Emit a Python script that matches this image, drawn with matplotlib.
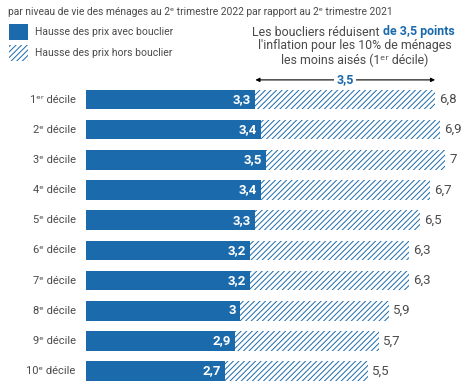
import matplotlib
matplotlib.use("Agg")
import matplotlib.pyplot as plt
from matplotlib.patches import Rectangle

plt.rcParams['font.family'] = ['Roboto', 'DejaVu Sans']
plt.rcParams['hatch.linewidth'] = 0.7

categories = ["1ᵉʳ décile", "2ᵉ décile", "3ᵉ décile", "4ᵉ décile", "5ᵉ décile",
              "6ᵉ décile", "7ᵉ décile", "8ᵉ décile", "9ᵉ décile", "10ᵉ décile"]
avec_bouclier = [3.3, 3.4, 3.5, 3.4, 3.3, 3.2, 3.2, 3.0, 2.9, 2.7]
hors_bouclier = [6.8, 6.9, 7.0, 6.7, 6.5, 6.3, 6.3, 5.9, 5.7, 5.5]

BLUE = "#1b6aac"
GRAY = "#4a4a4a"

W, H = 471, 381
fig = plt.figure(figsize=(W / 100, H / 100), dpi=100)

def fx(px):
    return px / W

def fy(py):
    return 1 - py / H

ax_left, ax_top, ax_bottom = 86, 84, 381
ax = fig.add_axes([fx(ax_left), fy(ax_bottom), fx(W - ax_left), (ax_bottom - ax_top) / H])
ax.set_xlim(0, 7.5)
ax.set_ylim(9.33, -0.514)
ax.axis('off')

def fmt(v):
    s = f"{v:.1f}".replace(".", ",")
    if s.endswith(",0"):
        s = s[:-2]
    return s

ys = list(range(len(categories)))
bh = 0.65
ax.barh(ys, hors_bouclier, height=bh, color="white", edgecolor=BLUE, hatch="//////", linewidth=0)
ax.barh(ys, avec_bouclier, height=bh, color=BLUE, linewidth=0)

for i, (a, h, c) in enumerate(zip(avec_bouclier, hors_bouclier, categories)):
    ax.text(a - 0.08, i, fmt(a), ha='right', va='center', color='white', fontsize=9.5, fontweight='bold')
    ax.text(h + 0.08, i, fmt(h), ha='left', va='center', color=GRAY, fontsize=9.5)
    ax.text(-0.2, i, c, ha='right', va='center', color=GRAY, fontsize=8)

# arrow annotation for the first decile
ay = -0.65
ax.annotate("", xy=(avec_bouclier[0], ay), xytext=(hors_bouclier[0], ay),
            arrowprops=dict(arrowstyle='<|-|>', color='black', lw=0.8, mutation_scale=6, shrinkA=0, shrinkB=0),
            annotation_clip=False)
mid = (avec_bouclier[0] + hors_bouclier[0]) / 2
ax.text(mid, ay, fmt(hors_bouclier[0] - avec_bouclier[0]), ha='center', va='center', color=BLUE,
        fontsize=9, fontweight='bold', clip_on=False,
        bbox=dict(facecolor='white', edgecolor='none', pad=1.5))

# title
fig.text(fx(8), fy(12), "par niveau de vie des ménages au 2ᵉ trimestre 2022 par rapport au 2ᵉ trimestre 2021",
         ha='left', va='center', color=GRAY, fontsize=7.4)

# legend
fig.patches.append(Rectangle((fx(9), fy(40)), fx(19), 16 / H, transform=fig.transFigure,
                             facecolor=BLUE, edgecolor='none'))
fig.patches.append(Rectangle((fx(9), fy(61)), fx(19), 16 / H, transform=fig.transFigure,
                             facecolor='white', edgecolor=BLUE, hatch='//////', linewidth=0))
fig.text(fx(35), fy(32), "Hausse des prix avec bouclier", ha='left', va='center', color=GRAY, fontsize=7.5)
fig.text(fx(35), fy(53), "Hausse des prix hors bouclier", ha='left', va='center', color=GRAY, fontsize=7.5)

# annotation text
fig.text(fx(380), fy(32), "Les boucliers réduisent", ha='right', va='center', color=GRAY, fontsize=8.9)
fig.text(fx(383), fy(32), "de 3,5 points", ha='left', va='center', color=BLUE, fontsize=8.9, fontweight='bold')
fig.text(fx(354.5), fy(46), "l'inflation pour les 10% de ménages", ha='center', va='center', color=GRAY, fontsize=8.9)
fig.text(fx(354.5), fy(60), "les moins aisés (1ᵉʳ décile)", ha='center', va='center', color=GRAY, fontsize=8.9)

fig.savefig("out.png", dpi=100)
